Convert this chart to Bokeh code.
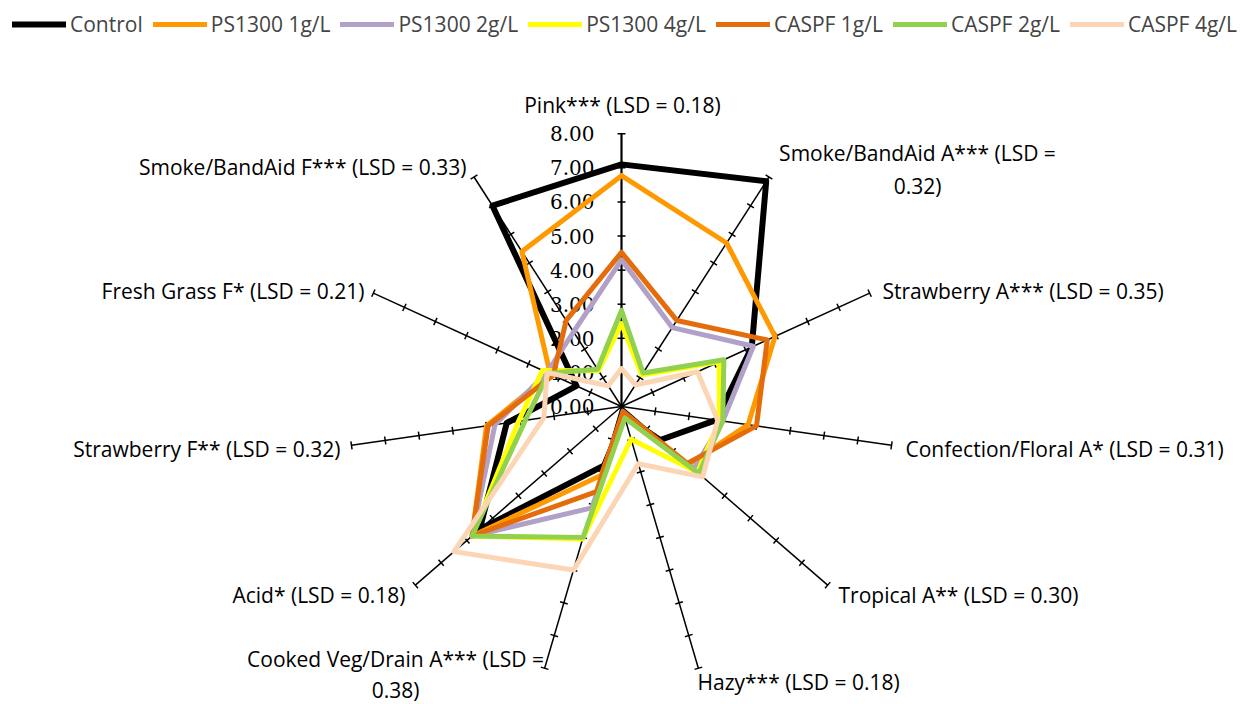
import numpy as np
from bokeh.plotting import figure
from bokeh.models import Range1d, Legend, LegendItem
from bokeh.core.properties import value
from bokeh.embed import file_html
from bokeh.resources import INLINE

# ---------------- data ----------------
attributes = [
    "Pink*** (LSD = 0.18)",
    "Smoke/BandAid A*** (LSD =\n0.32)",
    "Strawberry A*** (LSD = 0.35)",
    "Confection/Floral A* (LSD = 0.31)",
    "Tropical A** (LSD = 0.30)",
    "Hazy*** (LSD = 0.18)",
    "Cooked Veg/Drain A*** (LSD =\n0.38)",
    "Acid* (LSD = 0.18)",
    "Strawberry F** (LSD = 0.32)",
    "Fresh Grass F* (LSD = 0.21)",
    "Smoke/BandAid F*** (LSD = 0.33)",
]
series_names = ["Control", "PS1300 1g/L", "PS1300 2g/L", "PS1300 4g/L",
                "CASPF 1g/L", "CASPF 2g/L", "CASPF 4g/L"]
control     = [7.10, 7.85, 4.20, 2.80, 1.50, 0.30, 1.80, 5.50, 3.40, 1.45, 7.00]
ps1300_1g   = [6.77, 5.70, 4.95, 3.75, 2.60, 0.20, 2.10, 5.80, 4.00, 2.30, 5.40]
ps1300_2g   = [4.30, 2.75, 4.25, 3.00, 2.80, 0.30, 3.10, 5.80, 3.75, 2.40, 2.60]
ps1300_4g   = [2.43, 1.10, 3.15, 2.90, 2.95, 1.00, 4.05, 5.80, 3.05, 2.55, 1.25]
caspf_1g    = [4.52, 3.00, 4.70, 4.00, 2.55, 0.15, 2.60, 5.80, 3.95, 2.20, 3.00]
caspf_2g    = [2.82, 1.17, 3.30, 3.00, 3.00, 0.35, 4.00, 5.80, 2.85, 2.35, 1.30]
caspf_4g    = [1.11, 0.75, 2.45, 2.85, 3.15, 1.75, 5.00, 6.50, 2.30, 2.40, 0.72]
tick_values = [0, 1, 2, 3, 4, 5, 6, 7, 8]
tick_labels = ["0.00", "1.00", "2.00", "3.00", "4.00", "5.00", "6.00", "7.00", "8.00"]

series_values = [control, ps1300_1g, ps1300_2g, ps1300_4g, caspf_1g, caspf_2g, caspf_4g]
colors = ["#000000", "#FF9900", "#B1A0C7", "#FFFF00", "#E46C0A", "#92D050", "#FCD5B5"]
widths = [6, 5, 5, 5, 5, 5, 5]

# ---------------- layout ----------------
W, H = 1241, 704
CX, CY = 621, 406          # centre of the radar in figure pixels
S = 34.1                   # pixels per unit
RMAX = 8
LABEL_FONT = value("Open Sans")
LABEL_SIZE = "21px"

# label anchor offsets (px from centre, screen y down) and alignment
label_dx = [1, 296, 261, 284, 217, 76, -226, -216, -281, -257, -155]
label_dy = [-302, -237, -116, 42, 188, 275, 268, 188, 42, -116, -240]
label_align = ["center", "center", "left", "left", "left", "left", "center",
               "right", "right", "right", "right"]
label_lh = [1.15, 1.15, 1.15, 1.15, 1.15, 1.15, 1.1, 1.15, 1.15, 1.15, 1.15]

p = figure(width=W, height=H, x_range=Range1d(-CX, W - CX), y_range=Range1d(-(H - CY), CY),
           output_backend="svg", toolbar_location=None, min_border=0,
           x_axis_type=None, y_axis_type=None)
p.grid.visible = False
p.outline_line_color = None
p.background_fill_color = "white"
p.border_fill_color = "white"

n = len(attributes)
theta = 2 * np.pi * np.arange(n) / n
sx, cy = np.sin(theta), np.cos(theta)

# spokes
p.segment(x0=np.zeros(n), y0=np.zeros(n), x1=RMAX * S * sx, y1=RMAX * S * cy,
          line_color="black", line_width=[2.2] + [1.5] * (n - 1))

# tick marks
tx0, ty0, tx1, ty1 = [], [], [], []
half = 4
for k in range(n):
    for v in tick_values[1:]:
        px, py = v * S * sx[k], v * S * cy[k]
        nx, ny = cy[k], -sx[k]
        tx0.append(px - half * nx); ty0.append(py - half * ny)
        tx1.append(px + half * nx); ty1.append(py + half * ny)
p.segment(x0=tx0, y0=ty0, x1=tx1, y1=ty1, line_color="black", line_width=1.5)

# value labels on first axis
p.text(x=[-27] * len(tick_values), y=[v * S for v in tick_values], text=tick_labels,
       text_align="right", text_baseline="middle", text_font=value("DejaVu Serif"),
       text_font_size="20px", text_color="black")

# series
renderers = []
for vals, col, lw in zip(series_values, colors, widths):
    r = np.array(vals + vals[:1])
    th = np.append(theta, theta[0])
    rend = p.line(r * S * np.sin(th), r * S * np.cos(th), line_color=col, line_width=lw,
                  line_join="round", line_cap="round")
    renderers.append(rend)

# category labels
for txt, dx, dy, al, lh in zip(attributes, label_dx, label_dy, label_align, label_lh):
    p.text(x=[dx], y=[-dy], text=[txt], text_align=al, text_baseline="middle",
           text_font=LABEL_FONT, text_font_size=LABEL_SIZE, text_color="black",
           text_line_height=lh)

legend = Legend(items=[LegendItem(label=nm, renderers=[rd]) for nm, rd in zip(series_names, renderers)],
                orientation="horizontal", location=(12, H - 38), padding=0, margin=0,
                spacing=10, glyph_width=54, glyph_height=20, label_standoff=4,
                label_text_font="Open Sans", label_text_font_size=LABEL_SIZE,
                border_line_color=None, background_fill_alpha=0)
p.add_layout(legend)

open("out.html", "w").write(file_html(p, INLINE))
